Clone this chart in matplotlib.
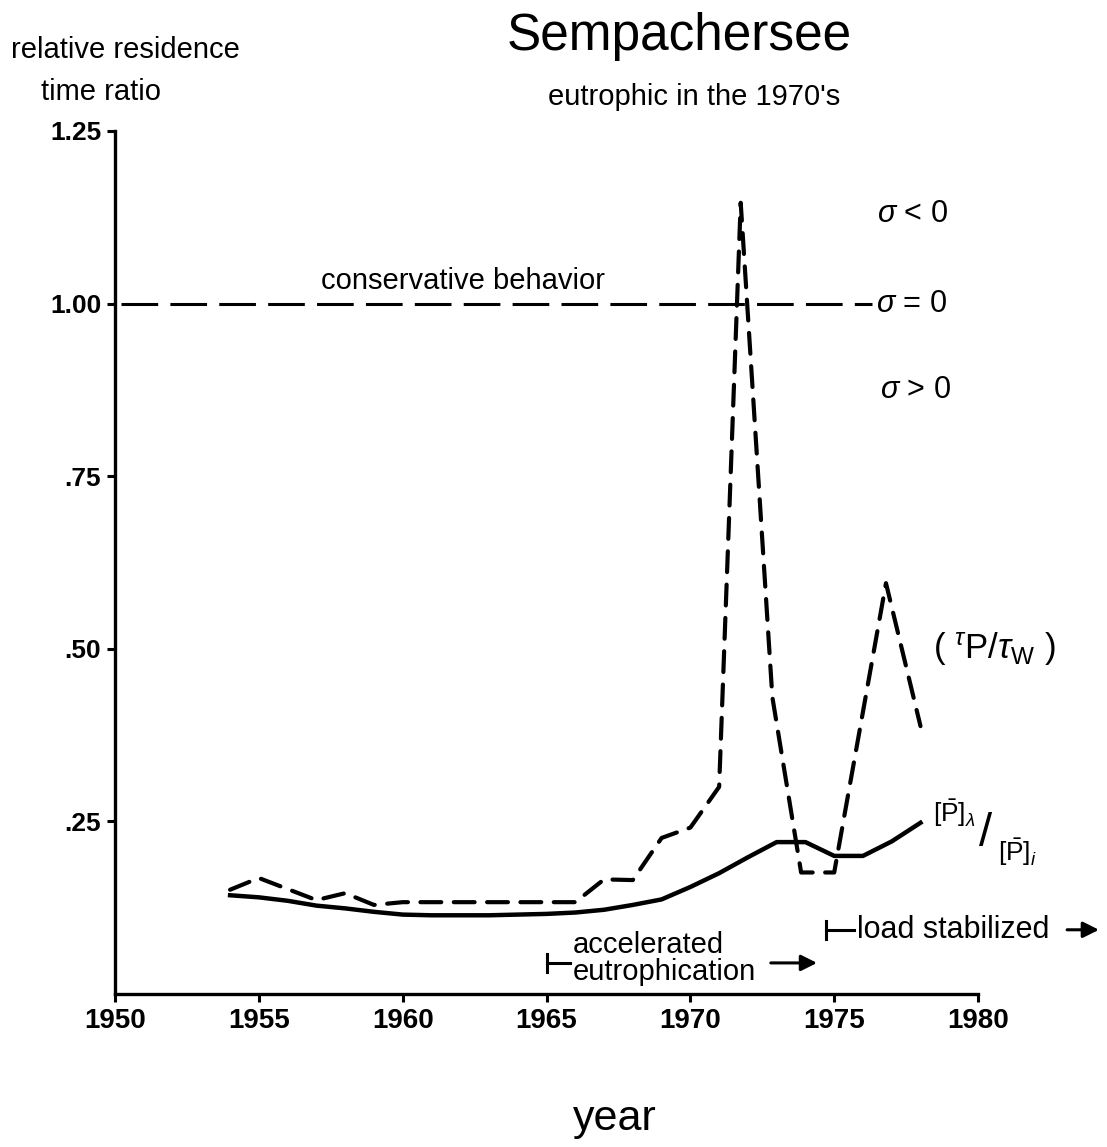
import numpy as np
import matplotlib
matplotlib.use("Agg")
import matplotlib.pyplot as plt

plt.rcParams['font.family'] = ['Liberation Sans', 'DejaVu Sans']
plt.rcParams['mathtext.fontset'] = 'custom'
plt.rcParams['mathtext.rm'] = 'Liberation Sans'
plt.rcParams['mathtext.it'] = 'Liberation Sans:italic'

# tau_P / tau_W (dashed)
tau_years = [1954, 1955, 1957, 1958, 1959, 1960, 1962, 1964, 1966, 1967, 1968,
             1969, 1970, 1971, 1971.75, 1972.85, 1973.85, 1975, 1976.8, 1978]
tau_ratio = [0.151, 0.168, 0.136, 0.146, 0.129, 0.133, 0.133, 0.133, 0.133, 0.166, 0.165,
             0.226, 0.241, 0.30, 1.146, 0.43, 0.176, 0.176, 0.595, 0.388]

# [P]_lambda / [P]_i (solid)
p_years = [1954, 1955, 1956, 1957, 1958, 1959, 1960, 1961, 1962, 1963, 1964, 1965,
           1966, 1967, 1968, 1969, 1970, 1971, 1972, 1973, 1974, 1975, 1976, 1977, 1978]
p_ratio = [0.143, 0.140, 0.135, 0.128, 0.124, 0.119, 0.115, 0.114, 0.114, 0.114, 0.115, 0.116,
           0.118, 0.122, 0.129, 0.137, 0.155, 0.175, 0.198, 0.220, 0.220, 0.200, 0.200, 0.221, 0.248]

yticks = [0.25, 0.50, 0.75, 1.00, 1.25]
ytick_labels = ['.25', '.50', '.75', '1.00', '1.25']
xticks = [1950, 1955, 1960, 1965, 1970, 1975, 1980]

fig = plt.figure(figsize=(11.07, 11.47), dpi=100)
ax = fig.add_axes([0.1039, 0.1334, 0.7796, 0.7524])

ax.plot(tau_years, tau_ratio, color='black', lw=3.0, ls=(0, (5, 3)),
        solid_joinstyle='miter', dash_capstyle='round')
ax.plot(p_years, p_ratio, color='black', lw=3.2)

# conservative behaviour reference line
ax.plot([1950.2, 1976.3], [1.0, 1.0], color='black', lw=2.2, ls=(0, (12, 4)))
ax.text(1962.1, 1.012, 'conservative behavior', fontsize=21, ha='center', va='bottom')

ax.set_xlim(1950, 1980)
ax.set_ylim(0, 1.25)
ax.set_xticks(xticks)
ax.set_xticklabels([str(x) for x in xticks], fontsize=20, fontweight='bold')
ax.set_yticks(yticks)
ax.set_yticklabels(ytick_labels, fontsize=19, fontweight='bold')
for s in ['top', 'right']:
    ax.spines[s].set_visible(False)
for s in ['left', 'bottom']:
    ax.spines[s].set_linewidth(2.4)
ax.tick_params(direction='out', length=6, width=2.2, pad=4)

# sigma labels
ax.text(1976.5, 1.13, r'$\sigma$ < 0', fontsize=22, ha='left', va='center')
ax.text(1976.45, 1.0, r'$\sigma$ = 0', fontsize=22, ha='left', va='center')
ax.text(1976.6, 0.875, r'$\sigma$ > 0', fontsize=22, ha='left', va='center')

# series labels
ax.text(1978.45, 0.50, r'( $^{\tau}$P/$\tau_{\mathrm{W}}$ )', fontsize=25,
        ha='left', va='center', clip_on=False)
ax.text(1978.45, 0.262, r'[$\bar{\mathrm{P}}$]$_{\lambda}$', fontsize=19,
        ha='left', va='center', clip_on=False)
ax.text(1980.05, 0.232, '/', fontsize=34, ha='left', va='center', clip_on=False)
ax.text(1980.7, 0.205, r'[$\bar{\mathrm{P}}$]$_{i}$', fontsize=19,
        ha='left', va='center', clip_on=False)

# period markers
ax.plot([1965, 1965], [0.032, 0.058], color='black', lw=2.2)
ax.plot([1965, 1965.8], [0.045, 0.045], color='black', lw=2.2)
ax.text(1965.9, 0.071, 'accelerated', fontsize=21, ha='left', va='center')
ax.text(1965.9, 0.032, 'eutrophication', fontsize=21, ha='left', va='center')
ax.annotate('', xy=(1974.5, 0.045), xytext=(1972.7, 0.045),
            arrowprops=dict(arrowstyle='-|>', color='black', lw=2.2,
                            mutation_scale=24))

ax.plot([1974.7, 1974.7], [0.08, 0.106], color='black', lw=2.2, clip_on=False)
ax.plot([1974.7, 1975.7], [0.093, 0.093], color='black', lw=2.2, clip_on=False)
ax.text(1975.8, 0.093, 'load stabilized', fontsize=22, ha='left', va='center',
        clip_on=False)
ax.annotate('', xy=(1984.3, 0.093), xytext=(1983.0, 0.093),
            arrowprops=dict(arrowstyle='-|>', color='black', lw=2.2,
                            mutation_scale=24), annotation_clip=False)

# titles and axis labels
fig.text(0.614, 0.968, 'Sempachersee', fontsize=37, ha='center', va='center')
fig.text(0.627, 0.915, "eutrophic in the 1970's", fontsize=21, ha='center', va='center')
fig.text(0.113, 0.956, 'relative residence', fontsize=21, ha='center', va='center')
fig.text(0.091, 0.920, 'time ratio', fontsize=21, ha='center', va='center')
fig.text(0.555, 0.024, 'year', fontsize=31, ha='center', va='center')

fig.savefig('out.png', dpi=100)
